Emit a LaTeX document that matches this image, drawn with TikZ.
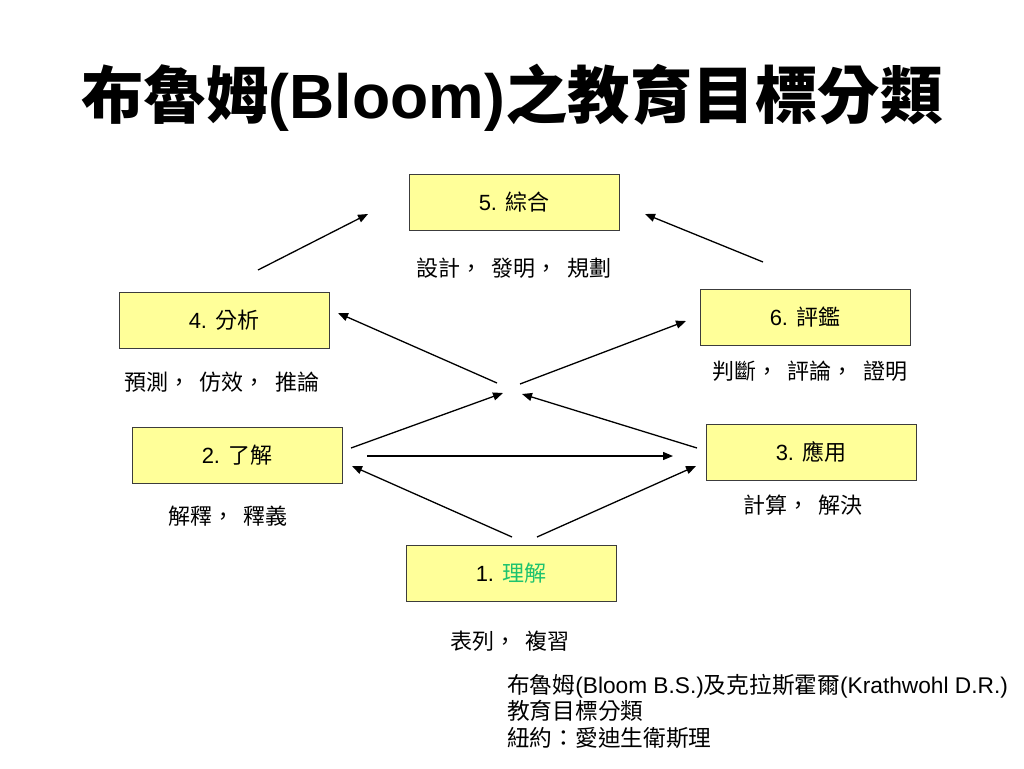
\documentclass[tikz,border=0pt]{standalone}
\usepackage{fontspec}
\setmainfont{Liberation Sans}
\newfontfamily\cjk{Noto Sans CJK TC}
\usetikzlibrary{arrows.meta}
\definecolor{boxfill}{RGB}{255,255,153}
\definecolor{boxline}{RGB}{60,60,60}
\definecolor{termgreen}{RGB}{30,195,110}
\begin{document}
\begin{tikzpicture}[x=1pt,y=-1pt,
  lvl/.style={draw=boxline,line width=1pt,fill=boxfill,minimum width=210pt,minimum height=56pt,inner sep=0pt,font=\fontsize{22}{26}\selectfont},
  lbl/.style={inner sep=0pt,font=\fontsize{22}{26}\selectfont\cjk},
  arr/.style={line width=1.3pt,-{Triangle[length=10pt,width=8pt]}}]
\useasboundingbox[fill=white] (0,0) rectangle (1024,768);
\node[inner sep=0pt,font=\fontsize{62.5}{70}\selectfont\bfseries] (title) at (512,98) {{\cjk\bfseries 布魯姆}(Bloom){\cjk\bfseries 之教育目標分類}};
% boxes
\node[lvl] (b5) at (514,202) {5. {\cjk 綜合}};
\node[lvl] (b4) at (224,320.5) {4. {\cjk 分析}};
\node[lvl] (b6) at (805,317) {6. {\cjk 評鑑}};
\node[lvl] (b2) at (237,455) {2. {\cjk 了解}};
\node[lvl] (b3) at (811,452) {3. {\cjk 應用}};
\node[lvl] (b1) at (511,573.5) {1. {\cjk\color{termgreen}理解}};
% labels
\node[lbl] (l5) at (514,268) {設計，\ \ 發明，\ \ 規劃};
\node[lbl] (l4) at (222,382) {預測，\ \ 仿效，\ \ 推論};
\node[lbl] (l6) at (810,371) {判斷，\ \ 評論，\ \ 證明};
\node[lbl] (l2) at (228,516) {解釋，\ \ 釋義};
\node[lbl] (l3) at (803,505) {計算，\ \ 解決};
\node[lbl] (l1) at (510,641) {表列，\ \ 複習};
\node[inner sep=0pt,anchor=north west,align=left,font=\fontsize{22.7}{26.5}\selectfont] (ref) at (507,674) {{\cjk 布魯姆}(Bloom B.S.){\cjk 及克拉斯霍爾}(Krathwohl D.R.)\\{\cjk 教育目標分類}\\{\cjk 紐約：愛迪生衛斯理}};
% arrow end points
\coordinate (a1s) at (258,270); \coordinate (a1e) at (368,214);
\coordinate (a2s) at (763,262); \coordinate (a2e) at (645,214);
\coordinate (a3s) at (497,383); \coordinate (a3e) at (338,313);
\coordinate (a4s) at (520,384); \coordinate (a4e) at (686,321);
\coordinate (a5s) at (351,448); \coordinate (a5e) at (503,393);
\coordinate (a6s) at (697,448); \coordinate (a6e) at (522,394);
\coordinate (a7s) at (367,456); \coordinate (a7e) at (673,456);
\coordinate (a8s) at (512,537); \coordinate (a8e) at (352,466);
\coordinate (a9s) at (537,537); \coordinate (a9e) at (696,466);
\foreach \i in {1,...,9} \draw[arr] (a\i s) -- (a\i e);
\end{tikzpicture}
\end{document}
